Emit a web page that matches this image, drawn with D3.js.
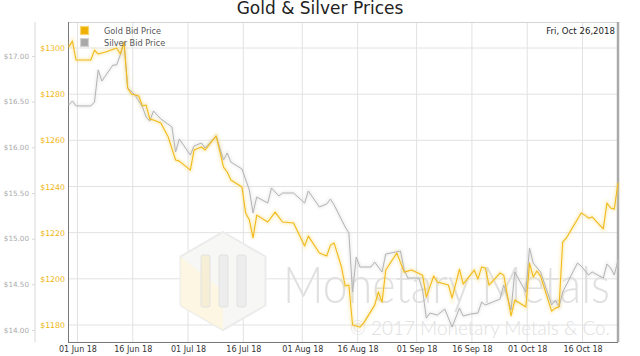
<!DOCTYPE html>
<html><head><meta charset="utf-8">
<script src="https://cdn.jsdelivr.net/npm/d3@7"></script>
<style>html,body{margin:0;padding:0;background:#fff;}svg{display:block;}</style>
</head><body>
<svg id="chart" width="640" height="356"></svg>
<script>
const title = "Gold & Silver Prices";
const dateLabel = "Fri, Oct 26,2018";
const seriesNames = ["Gold Bid Price", "Silver Bid Price"];
const goldTicks = [1180, 1200, 1220, 1240, 1260, 1280, 1300];
const silverTicks = [14.0, 14.5, 15.0, 15.5, 16.0, 16.5, 17.0];
const xTickDates = ["2018-06-01","2018-06-16","2018-07-01","2018-07-16","2018-08-01","2018-08-16","2018-09-01","2018-09-16","2018-10-01","2018-10-16"];

const goldDates = ["2018-05-29","2018-05-30","2018-05-31","2018-06-04","2018-06-05","2018-06-06","2018-06-08","2018-06-11","2018-06-12","2018-06-13","2018-06-14","2018-06-15","2018-06-17","2018-06-18","2018-06-19","2018-06-20","2018-06-21","2018-06-23","2018-06-25","2018-06-27","2018-06-28","2018-07-01","2018-07-02","2018-07-04","2018-07-05","2018-07-08","2018-07-10","2018-07-11","2018-07-12","2018-07-15","2018-07-16","2018-07-17","2018-07-18","2018-07-19","2018-07-22","2018-07-24","2018-07-26","2018-07-29","2018-08-01","2018-08-02","2018-08-05","2018-08-07","2018-08-08","2018-08-09","2018-08-11","2018-08-12","2018-08-13","2018-08-14","2018-08-16","2018-08-17","2018-08-20","2018-08-21","2018-08-22","2018-08-23","2018-08-26","2018-08-28","2018-08-30","2018-09-02","2018-09-03","2018-09-05","2018-09-06","2018-09-09","2018-09-10","2018-09-12","2018-09-13","2018-09-16","2018-09-17","2018-09-18","2018-09-19","2018-09-20","2018-09-23","2018-09-24","2018-09-26","2018-09-27","2018-09-30","2018-10-01","2018-10-02","2018-10-03","2018-10-04","2018-10-07","2018-10-08","2018-10-09","2018-10-10","2018-10-11","2018-10-15","2018-10-16","2018-10-17","2018-10-18","2018-10-21","2018-10-22","2018-10-23","2018-10-24","2018-10-25"];
const goldValues = [1300.4,1303.0,1294.8,1294.8,1299.1,1297.4,1298.3,1300.0,1297.4,1302.6,1282.7,1280.1,1279.2,1274.9,1275.3,1269.2,1268.8,1267.5,1261.4,1251.5,1251.0,1247.1,1255.8,1257.1,1255.8,1261.9,1248.4,1246.3,1242.8,1239.8,1228.5,1225.5,1217.7,1227.6,1224.6,1228.9,1224.6,1224.2,1214.2,1218.5,1211.2,1209.9,1214.6,1215.5,1205.1,1196.9,1197.3,1180.0,1179.1,1180.8,1188.6,1194.3,1189.9,1203.8,1211.2,1202.9,1203.8,1201.6,1192.1,1201.2,1198.6,1197.3,1191.7,1204.2,1197.7,1203.8,1199.9,1205.1,1204.7,1197.3,1202.5,1201.6,1183.9,1190.8,1187.8,1206.8,1200.8,1203.4,1201.2,1186.0,1187.3,1187.8,1215.9,1217.7,1228.5,1227.6,1226.3,1226.8,1221.6,1232.8,1230.7,1230.2,1241.5];

const silverDates = ["2018-05-29","2018-05-30","2018-05-31","2018-06-04","2018-06-05","2018-06-06","2018-06-07","2018-06-10","2018-06-11","2018-06-12","2018-06-13","2018-06-14","2018-06-16","2018-06-18","2018-06-19","2018-06-20","2018-06-21","2018-06-23","2018-06-26","2018-06-27","2018-06-28","2018-07-01","2018-07-02","2018-07-04","2018-07-05","2018-07-08","2018-07-10","2018-07-11","2018-07-12","2018-07-15","2018-07-17","2018-07-18","2018-07-19","2018-07-22","2018-07-23","2018-07-25","2018-07-26","2018-07-29","2018-08-01","2018-08-02","2018-08-05","2018-08-07","2018-08-08","2018-08-09","2018-08-12","2018-08-13","2018-08-14","2018-08-15","2018-08-16","2018-08-19","2018-08-20","2018-08-22","2018-08-23","2018-08-27","2018-08-28","2018-08-29","2018-09-01","2018-09-02","2018-09-03","2018-09-04","2018-09-06","2018-09-08","2018-09-10","2018-09-12","2018-09-13","2018-09-15","2018-09-17","2018-09-18","2018-09-19","2018-09-21","2018-09-23","2018-09-24","2018-09-26","2018-09-27","2018-09-30","2018-10-01","2018-10-02","2018-10-04","2018-10-07","2018-10-08","2018-10-09","2018-10-10","2018-10-14","2018-10-15","2018-10-17","2018-10-18","2018-10-21","2018-10-22","2018-10-23","2018-10-24","2018-10-25"];
const silverValues = [16.463,16.507,16.453,16.453,16.496,16.847,16.726,16.901,16.901,17.011,17.153,16.650,16.573,16.442,16.332,16.288,16.398,16.310,16.223,15.949,16.091,15.916,16.015,16.047,15.993,16.124,15.861,15.938,15.839,15.763,15.533,15.281,15.456,15.390,15.555,15.467,15.500,15.500,15.390,15.522,15.347,15.380,15.434,15.369,15.128,15.062,14.416,14.799,14.690,14.690,14.744,14.635,14.832,14.865,14.657,14.569,14.569,14.438,14.131,14.186,14.164,14.230,14.033,14.241,14.153,14.175,14.186,14.306,14.274,14.306,14.339,14.493,14.219,14.635,14.416,14.898,14.733,14.635,14.274,14.328,14.252,14.416,14.733,14.701,14.602,14.635,14.569,14.723,14.679,14.602,14.766];

const parse = d3.timeParse("%Y-%m-%d");
const HOUR = 3600 * 1000;
const t = s => new Date(parse(s).getTime() + 15 * HOUR);

const svg = d3.select("#chart");
const L = 68, R = 618, T = 22, B = 342;
const FONT = "'DejaVu Sans', Verdana, sans-serif";

const x = d3.scaleTime()
  .domain([new Date(2018, 4, 29, 10, 30), new Date(2018, 9, 25, 15, 0)])
  .range([L, R]);
const yG = d3.scaleLinear().domain([1172.63, 1311.27]).range([B, T]);
const yS = d3.scaleLinear().domain([13.869, 17.372]).range([B, T]);

const defs = svg.append("defs");
const glow = defs.append("filter").attr("id", "glow").attr("x", "-5%").attr("y", "-20%").attr("width", "110%").attr("height", "140%");
glow.append("feGaussianBlur").attr("stdDeviation", 1.5);

// grid
const xTicks = xTickDates.map(parse);
svg.append("g").selectAll("line").data(goldTicks).join("line")
  .attr("x1", L).attr("x2", R).attr("y1", d => yG(d)).attr("y2", d => yG(d))
  .attr("stroke", "#e2e2e2").attr("stroke-width", 1);
svg.append("g").selectAll("line").data(xTicks).join("line")
  .attr("x1", d => x(d)).attr("x2", d => x(d)).attr("y1", T).attr("y2", B)
  .attr("stroke", "#e2e2e2").attr("stroke-width", 1);

// watermark
const wm = svg.append("g").attr("class", "watermark");
const cx = 223, cy = 281, r = 49;
const hex = d3.range(6).map(i => {
  const a = Math.PI / 3 * i - Math.PI / 2;
  return [cx + r * Math.cos(a), cy + r * Math.sin(a)];
});
wm.append("polygon").attr("points", hex.map(p => p.join(",")).join(" "))
  .attr("fill", "#f7f7f5").attr("stroke", "#ebebeb").attr("stroke-width", 2);
wm.append("polygon").attr("points", [hex[3], hex[4], hex[5], [cx, cy + 10]].map(p => p.join(",")).join(" "))
  .attr("fill", "#fcf5e0").attr("opacity", 0.9);
[-22, -4, 14].forEach((dx, i) => {
  wm.append("rect").attr("x", cx + dx).attr("y", cy - 26).attr("width", 9).attr("height", 52)
    .attr("rx", 2).attr("fill", i === 0 ? "#f7eed6" : "#ededed").attr("stroke", "#e2e2e2");
});
wm.append("text").attr("x", 283).attr("y", 303).text("Monetary Metals")
  .attr("font-family", "Lato, 'Open Sans', sans-serif").attr("font-weight", 300)
  .attr("font-size", 52).attr("fill", "#e0e0e0")
  .attr("textLength", 327).attr("lengthAdjust", "spacingAndGlyphs");
wm.append("text").attr("x", 350).attr("y", 335).text("© 2017 Monetary Metals & Co.")
  .attr("font-family", "Lato, 'Open Sans', sans-serif").attr("font-weight", 300)
  .attr("font-size", 19).attr("fill", "#e0e0e0")
  .attr("textLength", 260).attr("lengthAdjust", "spacingAndGlyphs");

// borders
svg.append("line").attr("x1", L).attr("x2", R).attr("y1", T + 0.5).attr("y2", T + 0.5).attr("stroke", "#d4d4d4");
svg.append("line").attr("x1", R).attr("x2", R).attr("y1", T).attr("y2", B).attr("stroke", "#aaa").attr("stroke-width", 2.5);
svg.append("line").attr("x1", L + 0.5).attr("x2", L + 0.5).attr("y1", T).attr("y2", B).attr("stroke", "#777");
svg.append("line").attr("x1", L).attr("x2", R).attr("y1", B + 0.5).attr("y2", B + 0.5).attr("stroke", "#777");

// lines
const silverData = silverDates.map((d, i) => ({ d: t(d), v: silverValues[i] }));
const goldData = goldDates.map((d, i) => ({ d: t(d), v: goldValues[i] }));
const lineS = d3.line().x(d => x(d.d)).y(d => yS(d.v));
const lineG = d3.line().x(d => x(d.d)).y(d => yG(d.v));

svg.append("path").datum(silverData).attr("d", lineS).attr("fill", "none")
  .attr("stroke", "#dcdcdc").attr("stroke-width", 3).attr("opacity", 0.5).attr("filter", "url(#glow)");
svg.append("path").datum(goldData).attr("d", lineG).attr("fill", "none")
  .attr("stroke", "#f8dc78").attr("stroke-width", 3.5).attr("opacity", 0.45).attr("filter", "url(#glow)");
svg.append("path").datum(silverData).attr("d", lineS).attr("fill", "none")
  .attr("stroke", "#b4b4b4").attr("stroke-width", 1).attr("stroke-linejoin", "round");
svg.append("path").datum(goldData).attr("d", lineG).attr("fill", "none")
  .attr("stroke", "#f2ba1c").attr("stroke-width", 1.1).attr("stroke-linejoin", "round");

// silver axis
const sAxis = svg.append("g").attr("transform", "translate(35,0)")
  .call(d3.axisLeft(yS).tickValues(silverTicks).tickFormat(d => "$" + d.toFixed(2)).tickSize(3).tickPadding(3));
sAxis.select(".domain").attr("stroke", "#d8d8d8").attr("d", `M0,${T}V${B}`);
sAxis.selectAll(".tick line").attr("stroke", "#d8d8d8");
sAxis.selectAll("text").attr("fill", "#aaa").attr("font-size", 7.2).attr("font-family", FONT);

// gold axis
const gAxis = svg.append("g").attr("transform", "translate(68,0)")
  .call(d3.axisLeft(yG).tickValues(goldTicks).tickFormat(d => "$" + d).tickSize(0).tickPadding(3));
gAxis.select(".domain").remove();
gAxis.selectAll("text").attr("fill", "#f0b511").attr("font-size", 7.8).attr("font-family", FONT);

// x axis
const xAxis = svg.append("g").attr("transform", `translate(0,${B})`)
  .call(d3.axisBottom(x).tickValues(xTicks).tickFormat(d3.timeFormat("%d %b %y")).tickSize(0).tickPadding(4));
xAxis.select(".domain").remove();
xAxis.selectAll("text").attr("fill", "#333").attr("font-size", 8).attr("font-family", FONT);

// legend
const leg = svg.append("g");
const legColors = [["#f0b000", "#f7d570"], ["#a8a8a8", "#d2d2d2"]];
seriesNames.forEach((n, i) => {
  const yy = 27 + i * 12;
  leg.append("rect").attr("x", 80.5).attr("y", yy - 0.5).attr("width", 8).attr("height", 8)
    .attr("fill", legColors[i][0]).attr("stroke", legColors[i][1]).attr("stroke-width", 1.2);
  leg.append("text").attr("x", 104).attr("y", yy + 7).text(n)
    .attr("font-family", FONT).attr("font-size", 8.2).attr("fill", "#555");
});

// date label
svg.append("text").attr("x", 615).attr("y", 33.5).attr("text-anchor", "end").text(dateLabel)
  .attr("font-family", FONT).attr("font-size", 8.6).attr("fill", "#222");

// title
svg.append("text").attr("x", 320).attr("y", 14).attr("text-anchor", "middle").text(title)
  .attr("font-family", FONT).attr("font-size", 17).attr("fill", "#222");
</script>
</body></html>
